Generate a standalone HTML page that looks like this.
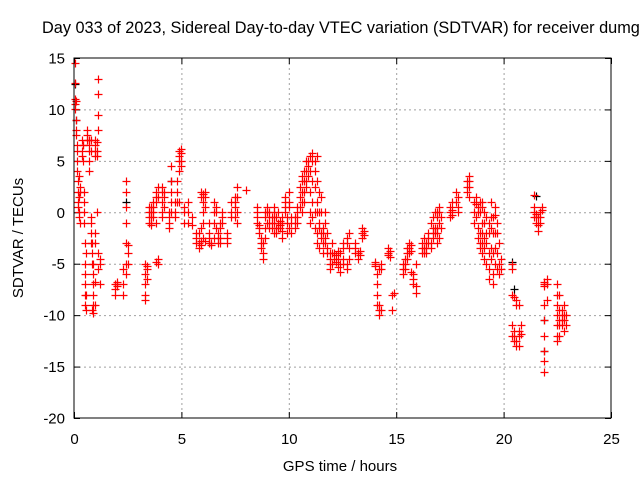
<!DOCTYPE html>
<html><head><meta charset="utf-8"><style>
body{margin:0;background:#fff}
svg{display:block;font-family:"Liberation Sans",sans-serif}
</style></head><body>
<svg id="chart" width="640" height="480" viewBox="0 0 640 480">
<rect width="640" height="480" fill="#fff"/>
<text x="42" y="33" font-size="16.3" fill="#000">Day 033 of 2023, Sidereal Day-to-day VTEC variation (SDTVAR) for receiver dumg</text>
<text transform="translate(23,238) rotate(-90)" text-anchor="middle" font-size="15">SDTVAR / TECUs</text>
<text x="340" y="471" text-anchor="middle" font-size="15">GPS time / hours</text>
<g id="grid"></g><g id="ticks"></g><g id="marks"></g>
<rect x="74" y="58" width="537" height="360" fill="none" stroke="#000" stroke-width="1"/>
</svg>
<script>
const xTicks=[0,5,10,15,20,25];
const yTicks=[-20,-15,-10,-5,0,5,10,15];
const groupTimes=[0.05,0.1,0.15,0.2,0.25,0.3,0.35,0.4,0.45,0.5,0.55,0.6,0.7,0.8,0.85,0.9,1.0,1.05,1.1,1.2,1.9,2.0,2.3,2.4,2.5,3.3,3.4,3.5,3.6,3.7,3.8,3.9,4.1,4.2,4.4,4.5,4.7,4.8,4.9,5.0,5.1,5.3,5.5,5.7,5.8,5.9,6.0,6.1,6.3,6.4,6.5,6.6,6.7,6.8,6.9,7.1,7.3,7.5,7.6,8.0,8.5,8.6,8.7,8.8,8.9,9.0,9.1,9.2,9.3,9.4,9.5,9.6,9.7,9.8,9.9,10.0,10.1,10.3,10.4,10.5,10.6,10.7,10.8,10.9,11.0,11.1,11.2,11.3,11.4,11.5,11.6,11.7,11.8,11.9,12.0,12.1,12.2,12.3,12.4,12.5,12.7,12.8,13.1,13.2,13.3,13.4,13.5,14.0,14.1,14.2,14.3,14.6,14.7,14.8,14.9,15.3,15.4,15.5,15.6,15.7,15.8,15.9,16.2,16.3,16.4,16.5,16.6,16.7,16.8,16.9,17.0,17.1,17.5,17.6,17.8,17.9,18.3,18.4,18.6,18.7,18.8,18.9,19.0,19.1,19.2,19.3,19.4,19.5,19.6,19.7,19.8,19.9,20.4,20.5,20.6,20.7,20.8,21.4,21.5,21.6,21.7,21.8,21.9,22.0,22.5,22.6,22.7,22.8,22.9];
const groupValues=[[14.5,12.6,11,10.5,10],[9,8,7.5,10.8],[6.5,6,5,4],[3,2,1,0.5],[0,-0.5,1.5,3.5],[2.5,2,-1],[6,7,5.5],[6.5,6.5,5],[2,1,0,-1],[-3,-5,-6,-7,-8,-9],[-9.5,-8,-4],[7.5,8,7],[7,6.5,7,5,4,6],[7,6,-1,-0.5,-2,-3],[-3,-4,-5,-9.5],[-9.8,-9,-8,-7,-6,-5],[7,5.5,6,6.5,-3,-2,-6.8,-9],[5.5,6,6.8,0],[13,11.5,9.5,8,-4,-5.5],[-5,-4.5,-7],[-7,-7.5,-8],[-7.2,-7,-6.8],[-7,-5.5,-8],[-6,-5,-3,-1,0.5,2,3],[-5,-4,-3.2],[-5,-6,-7,-8,-8.5],[-5.2,-5.5,-6.5],[-0.5,0,-1,0.5],[-1,0,0.5,-0.5,-1.2],[-0.5,0,1,0.5],[1,1.5,2,-1,-4.8],[-5,-4.5,2.5,1.5],[1,2,2.5,0,-0.5],[1.5,2,0.5],[0,-0.5,-1.5,-1],[0,1,2,3,4.5],[1,0,-0.5],[1,2,3],[4,5,5.5,6,1],[5.8,5,4.5,6.2],[0,-1,0.5],[1,0,-1],[-0.5,-1.2],[-2,-3,-2.5],[-3,-3.5,-2],[-3.2,-2.8,-1.5,1.5,2],[1.8,1,0,-1,-2.5],[2,1.5,0.5,-2.8],[-2.5,-3,-2,-1],[-3,-3.2],[1,0,-1,-2.5],[0.5,0,-1.5],[-2,-3,-2.5],[-1,-1.5,-2.5,-3],[-0.5,0,-1],[-2,-3,-2.5],[1,0,-0.5],[0.5,1,1.5,-0.5],[1.5,2.5,0,-1],[2.2],[0.5,0,-0.5,-1],[-1.5,-2,-1.2],[-2.5,-3,-3.5],[-4,-4.5,-3],[0,-0.5,-1.5,-2.5],[0,0.5,-1],[-0.5,-1,-1.5,0],[-1,-1.5,-0.5],[-0.5,-1,-2,0,0.5],[-0.5,-1.5,-2],[-1.5,-1,0],[-1.2,-0.8,-1.5],[-1,-0.5,-1.8,-2.5],[0.5,1,1.5,0],[-0.5,-1,-2],[1,2,0.5,-1.5],[-1,-0.5,-2],[-1,-1.5,-0.5],[-0.5,0,0.5,-1],[0.5,1.5,2.5],[2,3,3.5,1,0],[3,4,2,1],[4,5,3,2.5],[5,4.5,3.5],[5.5,4,2,0,-1],[5.8,5,3,1,-0.5],[5,4,2.5,0,-1.5],[5.5,3,1,0,-2,-3],[2,0,-1,-1.5,-3.5],[1.5,0,-2,-2.5],[-2,-1.5,-3,-4],[0,-1,-2.5,-3],[-2,-3.5,-4],[-4,-4.5,-5,-5.5],[-3,-4,-5],[-4,-4.5],[-4.2,-4.8],[-3.8,-4.5,-5.3],[-4,-5,-5.8],[-3,-3.5,-4.5,-5],[-2.5,-3,-5.5,-5],[-2,-3.5,-4.5],[-3,-3.5,-4],[-4.5,-4],[-4.2,-3.8],[-2,-1.5,-2.5],[-1.8,-2.2],[-5.2,-5,-4.8],[-6,-7,-8,-9],[-9,-9.5,-10,-5.5],[-5.5,-5,-9.5],[-3.5,-4,-4.2],[-3.8,-4.3],[-9.5,-8],[-7.8],[-5.5,-5,-6],[-5,-4.5,-5.5],[-4.5,-4,-3.5],[-3.5,-3,-4],[-3.2,-3.8,-5.8],[-6,-6.5,-7],[-7.2,-7.8,-5],[-3,-3.5,-4],[-3.5,-4,-2.5],[-3,-3.5,-4],[-2.5,-3,-2],[-3,-3.5,-1],[-2,-1.5,-0.5,-2.5],[-2,0,-1.5],[0,-0.5,-1.5,-2,-3],[-1,0,0.5,-2.5],[-0.5,-1.5],[0.5,0,-0.5],[0.2,-0.3,1],[2,1],[0.5,0,1.5],[2.5,2,3],[3,2.5,3.5,1.5],[-1,0,1],[0.8,1.5,-0.5],[0.5,0,-1.5,-2.5],[1,0,-2,-3,-3.5],[1,0.5,-1,-2,-3,-4],[0,-1,-2.5,-3.5,-4.5],[-0.5,-2,-3,-5],[-2,-1,-4,-5.5,-6.5],[1,-0.5,-1.5,-3.5,-4.5],[-0.5,-2,-4,-6,-7],[0.5,-0.3,-2,-3.5,-5],[-1,-2,-4,-5.5],[-3,-5,-6],[-4.5,-5.5],[-5,-5.5,-8,-11,-12],[-11.5,-12,-12.5,-8.2],[-8.5,-9,-12.5,-13],[-12,-13,-11.5,-9],[-11,-11.8],[0,-0.5,0.5,1.7],[-0.5,-1,-0.2],[-0.5,-1.2,-1.8],[-1,0,-0.5],[0.5,0.2],[-6.8,-7,-7.2,-9,-10.5,-12,-13.5,-14.5,-15.5],[-7,-6.5,-8.5],[-7,-8,-9,-10,-11,-12,-12.5],[-8,-9.5,-10.5,-11,-12],[-9.5,-10,-10.5,-11],[-10,-10.5,-11.5,-9],[-10,-11]];
const blackTimes=[0.05,0.1,2.4,4.5,20.4,21.5,21.9,21.9,20.5];
const blackValues=[12.5,9,1,3,-4.8,1.6,-13.5,-10.5,-7.5];
const X0=74,X1=611,Y0=418,Y1=58,XMIN=0,XMAX=25,YMIN=-20,YMAX=15;
function sx(t){return X0+(t-XMIN)/(XMAX-XMIN)*(X1-X0);}
function sy(v){return Y0-(v-YMIN)/(YMAX-YMIN)*(Y0-Y1);}
const NS="http://www.w3.org/2000/svg";
const grid=document.getElementById('grid'),ticks=document.getElementById('ticks'),marks=document.getElementById('marks');
function line(p,x1,y1,x2,y2,st,dash){const l=document.createElementNS(NS,'line');l.setAttribute('x1',x1);l.setAttribute('y1',y1);l.setAttribute('x2',x2);l.setAttribute('y2',y2);l.setAttribute('stroke',st);if(dash)l.setAttribute('stroke-dasharray',dash);p.appendChild(l);return l;}
function txt(x,y,s,anchor){const t=document.createElementNS(NS,'text');t.setAttribute('x',x);t.setAttribute('y',y);t.setAttribute('font-size','15');t.setAttribute('text-anchor',anchor);t.textContent=s;ticks.appendChild(t);return t;}
xTicks.forEach(v=>{const x=sx(v)+0.5;
 if(v>XMIN&&v<XMAX){const g=line(grid,x,Y1,x,Y0,'#a0a0a0','2,3');
 
 }
 line(ticks,x,Y0,x,Y0-6,'#000');line(ticks,x,Y1,x,Y1+6,'#000');
 const t=txt(x,Y0+26,String(v),'middle');
 
 });
yTicks.forEach(v=>{const y=sy(v)+0.5;
 if(v>YMIN&&v<YMAX){const g=line(grid,X0,y,X1,y,'#a0a0a0','2,3');
 
 }
 line(ticks,X0,y,X0+6,y,'#000');line(ticks,X1,y,X1-6,y,'#000');
 const t=txt(X0-9,y+5,String(v),'end');
 
 });
function plus(t,v,color,name){const x=Math.round(sx(t))+0.5,y=Math.round(sy(v))+0.5;
 const p=document.createElementNS(NS,'path');
 p.setAttribute('d','M'+(x-4)+' '+y+'H'+(x+4)+'M'+x+' '+(y-4)+'V'+(y+4));
 p.setAttribute('stroke',color);p.setAttribute('stroke-width','1.2');
 
 
 marks.appendChild(p);}
blackTimes.forEach((t,i)=>plus(t,blackValues[i],'#000','reference-point'));
groupTimes.forEach((t,i)=>groupValues[i].forEach(v=>plus(t,v,'#ff0000','sdtvar-point')));
</script>
</body></html>
